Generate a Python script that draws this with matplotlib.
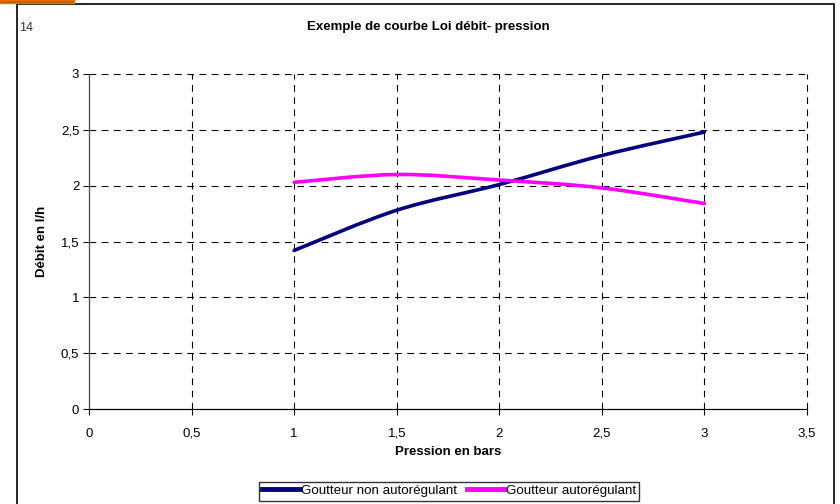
import numpy as np
import matplotlib.pyplot as plt
from matplotlib.path import Path
from matplotlib.patches import PathPatch, Rectangle
from matplotlib.lines import Line2D

plt.rcParams['font.family'] = ['Liberation Sans', 'DejaVu Sans']

pression = [1, 1.5, 2, 2.5, 3]
debit_non_auto = [1.42, 1.78, 2.01, 2.27, 2.48]
debit_auto = [2.03, 2.10, 2.05, 1.98, 1.84]

x_ticks = [0, 0.5, 1, 1.5, 2, 2.5, 3, 3.5]
x_labels = ["0", "0,5", "1", "1,5", "2", "2,5", "3", "3,5"]
y_ticks = [0, 0.5, 1, 1.5, 2, 2.5, 3]
y_labels = ["0", "0,5", "1", "1,5", "2", "2,5", "3"]


def smooth_path(xs, ys):
    # Bezier smoothing like spreadsheet "smoothed line" option
    pts = np.column_stack([xs, ys]).astype(float)
    n = len(pts)
    verts = [pts[0]]
    codes = [Path.MOVETO]
    for i in range(n - 1):
        p0 = pts[max(i - 1, 0)]
        p1 = pts[i]
        p2 = pts[i + 1]
        p3 = pts[min(i + 2, n - 1)]
        c1 = p1 + (p2 - p0) / 6
        c2 = p2 - (p3 - p1) / 6
        verts += [c1, c2, p2]
        codes += [Path.CURVE4] * 3
    return Path(verts, codes)


fig = plt.figure(figsize=(8.4, 5.04), dpi=100)

# outer chart frame and sheet tab
fig.patches.append(Rectangle((17 / 840, -0.05), (834 - 17) / 840, 1.05 - 4 / 504,
                             transform=fig.transFigure, fill=False,
                             edgecolor="black", linewidth=1.2))
fig.patches.append(Rectangle((0, 1 - 3 / 504), 74 / 840, 3 / 504,
                             transform=fig.transFigure, facecolor="#808000",
                             edgecolor="#FF6600", linewidth=1.0))
fig.text(19 / 840, 1 - 28 / 504, "14", fontsize=9, color="#333333",
         va="center", ha="left")

ax = fig.add_axes([89 / 840, 1 - 409 / 504, (807 - 89) / 840, (409 - 74) / 504])

ax.add_patch(PathPatch(smooth_path(pression, debit_non_auto), fill=False,
                       edgecolor="#000080", linewidth=2.6, capstyle="round", zorder=3))
ax.add_patch(PathPatch(smooth_path(pression, debit_auto), fill=False,
                       edgecolor="#FF00FF", linewidth=2.6, capstyle="round", zorder=3))

ax.set_xlim(0, 3.5)
ax.set_ylim(0, 3)
ax.set_xticks(x_ticks)
ax.set_xticklabels(x_labels)
ax.set_yticks(y_ticks)
ax.set_yticklabels(y_labels)
ax.tick_params(direction="out", length=4, width=0.8, labelsize=9.5)
ax.tick_params(axis="x", pad=16)
ax.tick_params(axis="y", pad=3)
for lab in ax.get_xticklabels():
    lab.set_va("baseline")

for x in x_ticks[1:]:
    ax.axvline(x, color="black", linestyle=(0, (6, 5)), linewidth=0.8,
               zorder=1, clip_on=False)
for y in y_ticks[1:]:
    ax.axhline(y, color="black", linestyle=(0, (6, 5)), linewidth=0.8,
               zorder=1, clip_on=False)

ax.spines["top"].set_visible(False)
ax.spines["right"].set_visible(False)
ax.spines["left"].set_color("#444444")
ax.spines["left"].set_linewidth(0.9)
ax.spines["bottom"].set_linewidth(0.9)

ax.set_xlabel("Pression en bars", fontsize=9.5, fontweight="bold", va="center")
ax.set_ylabel("Débit en l/h", fontsize=9.5, fontweight="bold", va="center")
ax.xaxis.set_label_coords(0.5, -43 / 335)
ax.yaxis.set_label_coords(-47 / 718, 0.5)
fig.text(428 / 840, 1 - 27 / 504, "Exemple de courbe Loi débit- pression",
         fontsize=9.5, fontweight="bold", ha="center", va="center")

handles = [Line2D([], [], color="#000080", linewidth=3.5),
           Line2D([], [], color="#FF00FF", linewidth=3.5)]
leg = fig.legend(handles, ["Goutteur non autorégulant", "Goutteur autorégulant"],
                 loc="center", bbox_to_anchor=(449 / 840, 1 - 491 / 504),
                 ncol=2, fontsize=9.6, frameon=True, fancybox=False,
                 handlelength=2.8, handletextpad=0.1, columnspacing=0.8,
                 borderpad=0.25, borderaxespad=0)
leg.get_frame().set_edgecolor("black")
leg.get_frame().set_linewidth(1.0)

fig.savefig("out.png", dpi=100)
